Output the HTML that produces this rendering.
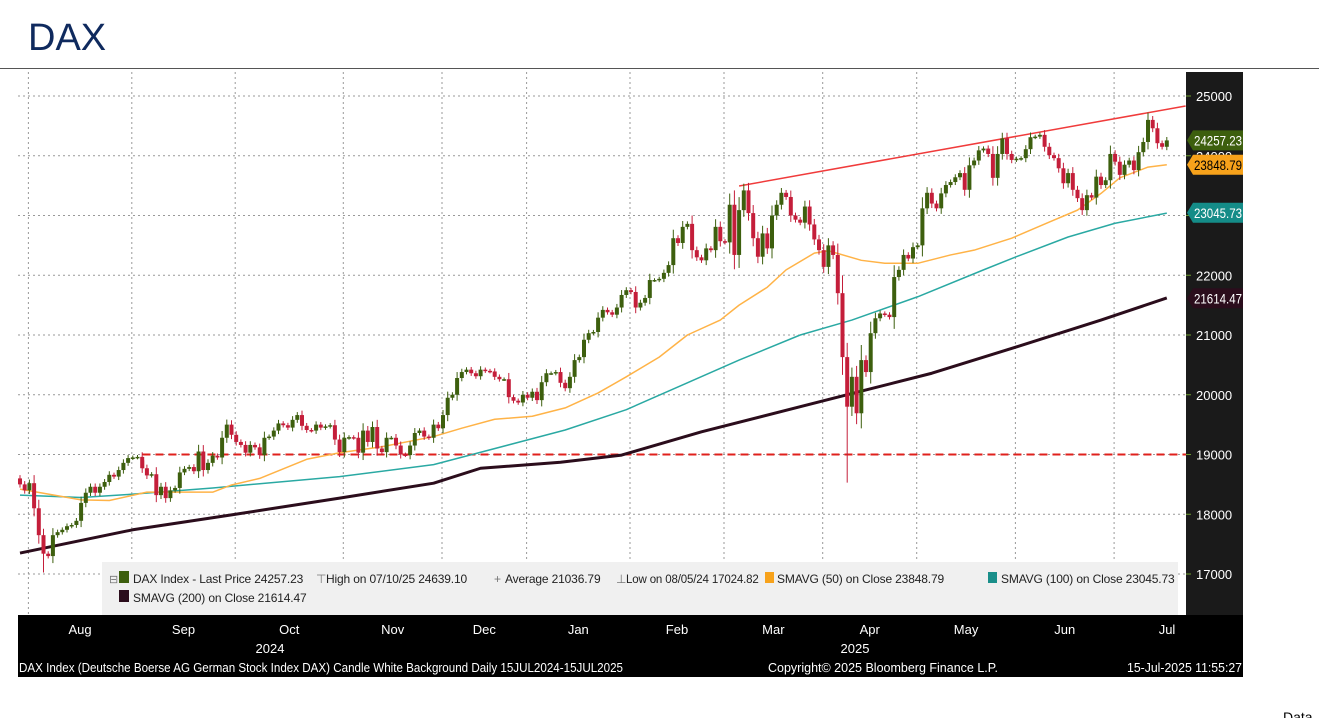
<!DOCTYPE html>
<html><head><meta charset="utf-8"><style>
body{margin:0;background:#fff;width:1319px;height:718px;overflow:hidden;font-family:"Liberation Sans",sans-serif}
svg{position:absolute;left:0;top:0}
.lg{font-family:"Liberation Sans",sans-serif;font-size:12px;letter-spacing:-0.15px;fill:#222}
.ft{font-family:"Liberation Sans",sans-serif;font-size:12.5px;fill:#fff}
</style></head><body>
<svg id="c" width="1319" height="718" xmlns="http://www.w3.org/2000/svg">
<text x="28" y="50" font-size="38" fill="#0f2a5e" font-family="Liberation Sans, sans-serif">DAX</text>
<line x1="0" y1="68.5" x2="1319" y2="68.5" stroke="#555" stroke-width="1"/>
<rect x="1186" y="72" width="57" height="543" fill="#1a1a1a"/>
<g id="grid"></g>
<g id="sma"></g>
<g id="candles"></g>
<g id="yaxis"></g>
<g id="legend">
<rect x="102" y="562" width="1076" height="53" fill="#f0f0f0"/>
<text x="109" y="583" font-size="11" fill="#777">⊟</text>
<rect x="119" y="571" width="10" height="12" fill="#3d5f0e"/>
<text x="133" y="583" class="lg">DAX Index - Last Price 24257.23</text>
<text x="316" y="583" font-size="12" fill="#777">⊤</text>
<text x="326" y="583" class="lg">High on 07/10/25 24639.10</text>
<text x="494" y="583" font-size="12" fill="#777">+</text>
<text x="505" y="583" class="lg">Average 21036.79</text>
<text x="616" y="583" font-size="12" fill="#777">⊥</text>
<text x="626" y="583" class="lg" style="font-size:11.5px">Low on 08/05/24 17024.82</text>
<rect x="765" y="572" width="9" height="11" fill="#f7a21b"/>
<text x="777" y="583" class="lg">SMAVG (50)  on Close 23848.79</text>
<rect x="988" y="572" width="9" height="11" fill="#1a8f8a"/>
<text x="1001" y="583" class="lg">SMAVG (100)  on Close 23045.73</text>
<rect x="119" y="590" width="10" height="12" fill="#2b0d1c"/>
<text x="133" y="602" class="lg">SMAVG (200)  on Close 21614.47</text>
</g>
<rect x="18" y="615" width="1225" height="62" fill="#000"/>
<g id="xaxis"></g>
<text x="270" y="653" font-size="13" fill="#fff" text-anchor="middle">2024</text>
<text x="855" y="653" font-size="13" fill="#fff" text-anchor="middle">2025</text>
<text x="19" y="672" class="ft" textLength="604" lengthAdjust="spacingAndGlyphs">DAX Index (Deutsche Boerse AG German Stock Index DAX) Candle White Background  Daily 15JUL2024-15JUL2025</text>
<text x="768" y="672" class="ft">Copyright© 2025 Bloomberg Finance L.P.</text>
<text x="1127" y="672" class="ft" textLength="115" lengthAdjust="spacingAndGlyphs">15-Jul-2025 11:55:27</text>
<text x="1283" y="722" font-size="14" fill="#000">Data</text>
</svg>
<script>
const closes=[18500,18400,18520,18100,17650,17340,17300,17650,17700,17740,
17800,17820,17890,18190,18360,18460,18360,18460,18540,18660,
18630,18740,18860,18940,18950,18960,18770,18650,18670,18320,
18460,18270,18400,18440,18700,18760,18790,18720,19050,18740,
18860,18980,18950,19280,19500,19330,19210,19160,19030,19160,
19120,18990,19280,19300,19400,19520,19490,19450,19580,19660,
19480,19410,19400,19500,19450,19470,19490,19250,19040,19280,
19290,19280,19030,19400,19210,19460,19100,19040,19280,19280,
19150,19000,18990,19150,19360,19400,19300,19280,19500,
19440,19660,19950,20000,20280,20380,20420,20360,20310,20420,20400,20390,20300,20260,
20260,19960,19900,19870,20000,19950,20050,19910,20210,20360,
20360,20380,20200,20110,20300,20580,20630,20920,21030,21050,
21290,21420,21380,21340,21460,21670,21750,21720,21460,21540,
21620,21920,21920,21940,22040,22170,22620,22540,22810,22860,
22420,22300,22250,22450,22420,22810,22570,22550,23180,22340,
23090,23420,23040,22620,22310,22700,22450,23000,23180,23380,
23310,23000,22930,22880,23150,22850,22600,22420,22140,22500,
22340,21700,
20630,19800,20300,19690,20580,20380,21030,21280,21360,21340,
21300,21970,22090,22340,22280,22470,22500,23120,23380,23200,
23120,23370,23510,23560,23640,23710,23430,23840,23920,24090,
24120,24030,23630,24030,24290,24030,23930,23950,23960,24110,
24310,24320,24350,24150,24010,23960,23790,23540,23710,23430,
23290,23090,23340,23300,23650,23510,23590,24030,23900,23680,
23850,23920,23760,24060,24230,24600,24460,24210,24150,24257];
const lowDays=[5,176];
const lowValues=[17025,18530];
const sma50Days=[0,13,19,27,41,45,51,61,68,77,88,94,101,109,116,123,129,136,142,149,153,159,163,169,172,179,184,191,198,203,211,219,225,230,234,240,244];
const sma50Vals=[18420,18240,18230,18370,18370,18490,18600,18920,19030,19130,19300,19440,19590,19640,19780,20030,20300,20630,21000,21250,21500,21800,22090,22370,22410,22250,22200,22200,22340,22420,22620,22890,23090,23370,23630,23810,23850];
const sma100Days=[0,13,23,41,68,88,116,129,142,153,166,177,191,205,212,223,233,244];
const sma100Vals=[18320,18280,18330,18440,18630,18830,19410,19750,20200,20580,21000,21250,21640,22090,22310,22640,22870,23040];
const sma200Days=[0,24,45,68,88,98,115,128,145,166,180,194,212,230,244];
const sma200Vals=[17350,17740,17990,18270,18520,18770,18870,18990,19380,19800,20080,20360,20800,21250,21620];
const trendDays=[153,248];
const trendVals=[23494,24833];
const yTicks=[17000,18000,19000,20000,21000,22000,23000,24000,25000];
const monthLabels=["Aug","Sep","Oct","Nov","Dec","Jan","Feb","Mar","Apr","May","Jun","Jul"];
const monthStartDays=[2,24,46,69,90,108,130,150,171,191,212,233,250];
const tagLabels=["24257.23","23848.79","23045.73","21614.47"];
const tagValues=[24257.23,23848.79,23045.73,21614.47];
const tagColors=["#3d5f0e","#f7a21b","#148c88","#2b0d1c"];
const tagText=["#fff","#000","#fff","#fff"];

const NS="http://www.w3.org/2000/svg";
const X0=20, STEP=4.7, PL=18, PR=1186;
function xs(i){return X0+i*STEP;}
function ys(p){return 96+(25000-p)*0.05975;}
function mk(tag,attrs,parent){const e=document.createElementNS(NS,tag);for(const k in attrs)e.setAttribute(k,attrs[k]);parent.appendChild(e);return e;}
const grid=document.getElementById('grid');
yTicks.forEach(t=>{
  const l=mk('line',{x1:PL,x2:PR,y1:ys(t),y2:ys(t),stroke:'#999','stroke-dasharray':'2,3','stroke-width':1},grid);
  
  
});
const xax=document.getElementById('xaxis');
monthStartDays.slice(0,12).forEach((d,k)=>{
  const gx=xs(d)-1;
  const l=mk('line',{x1:gx,x2:gx,y1:72,y2:615,stroke:'#999','stroke-dasharray':'2,3','stroke-width':1},grid);
  
  
  const nx=xs(monthStartDays[k+1])-1;
  const lx=k===11?1167:(gx+nx)/2;
  const t=mk('text',{x:lx,y:634,'font-size':13,fill:'#fff','text-anchor':'middle'},xax);
  t.textContent=monthLabels[k];
  
  
});
const sx=xs(26)+1;
const sup=mk('path',{d:`M${sx},${ys(18770)} L${sx},${ys(19000)} L${PR},${ys(19000)}`,stroke:'#e0201c','stroke-width':2,fill:'none','stroke-dasharray':'8,5'},grid);


const smaG=document.getElementById('sma');
function poly(days,vals,color,w,name){
  const pts=days.map((d,i)=>xs(d)+','+ys(vals[i])).join(' ');
  const p=mk('polyline',{points:pts,fill:'none',stroke:color,'stroke-width':w,'stroke-linejoin':'round'},smaG);
  
  
}
poly(sma200Days,sma200Vals,'#2b0d1c',3,'sma200-line');
poly(sma100Days,sma100Vals,'#2aa9a3',1.5,'sma100-line');
poly(sma50Days,sma50Vals,'#ffb347',1.5,'sma50-line');
poly(trendDays,trendVals,'#f03b3b',1.5,'resistance-trendline');
const cg=document.getElementById('candles');
closes.forEach((c,i)=>{
  const o=i===0?c+100:closes[i-1];
  const up=c>=o;
  const hi=Math.max(o,c)+Math.abs(c-o)*0.25+30;
  let lo=Math.min(o,c)-Math.abs(c-o)*0.25-30;
  const li=lowDays.indexOf(i); if(li>=0) lo=lowValues[li];
  const col=up?'#3d5f0e':'#c41e3a';
  const x=xs(i);
  const g=mk('g',{},cg);
  
  
  mk('line',{x1:x,x2:x,y1:ys(hi),y2:ys(lo),stroke:col,'stroke-width':1},g);
  const top=ys(Math.max(o,c)),bot=ys(Math.min(o,c));
  mk('rect',{x:x-2,y:top,width:4,height:Math.max(bot-top,1.5),fill:col},g);
});
const ya=document.getElementById('yaxis');
yTicks.forEach(t=>{
  mk('line',{x1:1186,x2:1191,y1:ys(t),y2:ys(t),stroke:'#6a9a2a','stroke-width':1},ya);
  const tx=mk('text',{x:1196,y:ys(t)+5,'font-size':13,fill:'#fff'},ya);
  tx.textContent=t;
  
  
});
tagValues.forEach((v,k)=>{
  const y=ys(v);
  const g=mk('g',{},ya);
  
  
  mk('path',{d:`M1187,${y} L1193,${y-10} L1243,${y-10} L1243,${y+10} L1193,${y+10} Z`,fill:tagColors[k]},g);
  const t=mk('text',{x:1194,y:y+5,'font-size':14,fill:tagText[k],textLength:48,lengthAdjust:'spacingAndGlyphs'},g);
  t.textContent=tagLabels[k];
});
</script>
</body></html>
